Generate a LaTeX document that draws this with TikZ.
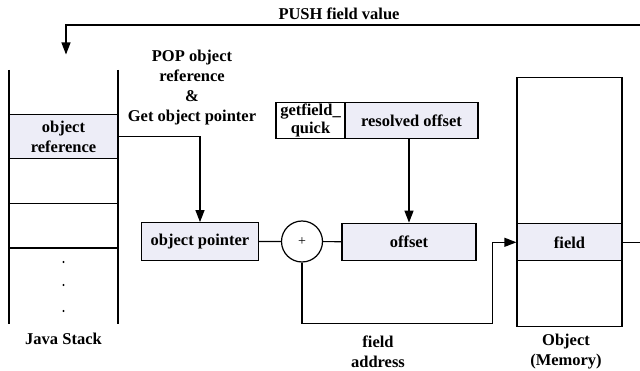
\documentclass[tikz,border=0pt]{standalone}
\usepackage{fontspec}
\setmainfont{Liberation Serif}
\usetikzlibrary{arrows.meta}
\definecolor{lav}{HTML}{EDEDF7}
\newcommand\lblfont{\fontsize{16.5}{20}\selectfont\bfseries}
\newcommand\gqfont{\fontsize{16.5}{17.5}\selectfont\bfseries}
\tikzset{
  conn/.style={line width=1.2pt},
  arr/.style={conn, -{Triangle[length=12pt,width=9pt]}},
  cell/.style={draw, fill=lav, line width=1.2pt, inner sep=0pt, align=center, font=\lblfont},
  lbl/.style={align=center, font=\lblfont, inner sep=0pt},
}
\begin{document}
\begin{tikzpicture}[x=1pt,y=-1pt]
\useasboundingbox (0,0) rectangle (640,371);
\clip (0,0) rectangle (640,371);
% Java stack
\draw[conn] (9,70) -- (9,324);
\draw[conn] (118,70) -- (118,324);
\draw[conn] (9,203.5) -- (118,203.5);
\draw[conn] (9,248) -- (118,248);
\node[cell, minimum width=109pt, minimum height=44.5pt] (oref) at (63.5,136.5) {object\\reference};
\fill (63.5,262) circle (1.1pt);
\fill (63.5,285) circle (1.1pt);
\fill (63.5,311) circle (1.1pt);
\node[lbl] (js) at (63.5,339) {Java Stack};
% labels
\node[lbl] (pop) at (192,88) {POP object\\reference\\\&\\Get object pointer};
\node[lbl] (push) at (339,14) {PUSH field value};
\node[lbl] (fa) at (378,352) {field\\address};
\node[lbl] (om) at (566,352) {Object\\(Memory)};
% object pointer, adder, offset
\node[cell, minimum width=116.5pt, minimum height=38pt] (optr) at (200,241.7) {object pointer};
\node[draw, circle, conn, minimum size=41pt, inner sep=0pt, fill=white] (plus) at (302,241.5) {\fontsize{14}{14}\selectfont +};
\node[cell, minimum width=134pt, minimum height=37.5pt] (off) at (409,242) {offset};
% getfield_quick / resolved offset
\node[cell, fill=white, minimum width=69pt, minimum height=36pt, font=\gqfont] (gq) at (310.5,120.4) {getfield\_\\quick};
\node[cell, minimum width=133pt, minimum height=36pt] (ro) at (411.5,120.4) {resolved offset};
% object in memory
\node[draw, conn, minimum width=105pt, minimum height=249pt, inner sep=0pt] (obj) at (569.5,202.2) {};
\node[cell, minimum width=105pt, minimum height=37pt] (fld) at (569.5,242.3) {field};
% connectors
\draw[arr] (oref.east) -| (optr.north);
\draw[conn] (optr) -- (plus);
\draw[conn] (plus) -- (off);
\draw[arr] (ro.south -| off.north) -- (off.north);
\coordinate (turn) at (492.7,323.3);
\draw[arr] (plus.south) |- (turn) |- (fld.west);
\coordinate (fbR) at (650,242.3);
\coordinate (fbT) at (66,25);
\coordinate (fbE) at (66,54.5);
\draw[arr] (fld.east) -- (fbR) |- (fbT) -- (fbE);
\end{tikzpicture}
\end{document}
